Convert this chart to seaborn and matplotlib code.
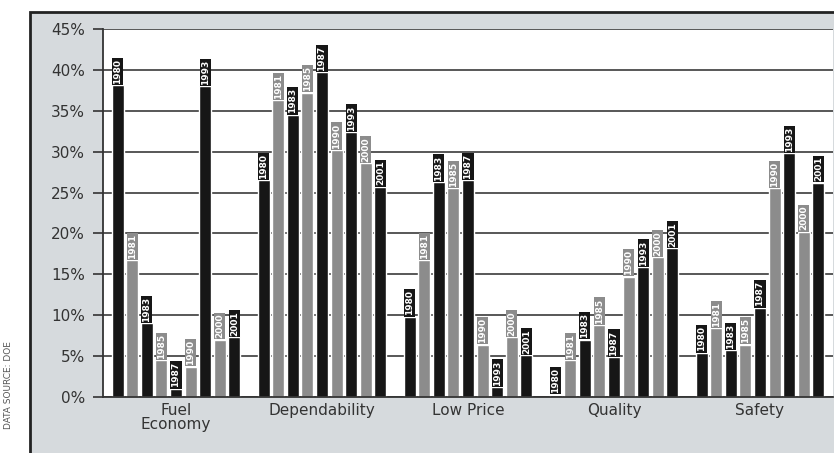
import matplotlib
matplotlib.use("Agg")
import matplotlib.pyplot as plt
from matplotlib.patches import Rectangle
import seaborn as sns
import pandas as pd
import numpy as np

categories = ["Fuel\nEconomy", "Dependability", "Low Price", "Quality", "Safety"]
years = ["1980", "1981", "1983", "1985", "1987", "1990", "1993", "2000", "2001"]
v1980 = [38.1, 26.5, 9.8, 0.3, 5.4]
v1981 = [16.7, 36.3, 16.7, 4.5, 8.4]
v1983 = [9.0, 34.5, 26.3, 7.0, 5.7]
v1985 = [4.5, 37.2, 25.5, 8.8, 6.4]
v1987 = [1.0, 39.7, 26.5, 4.9, 10.9]
v1990 = [3.7, 30.2, 6.4, 14.7, 25.5]
v1993 = [38.0, 32.4, 1.2, 15.9, 29.8]
v2000 = [7.0, 28.6, 7.3, 17.1, 20.2]
v2001 = [7.3, 25.7, 5.1, 18.2, 26.2]
yticks = [0, 5, 10, 15, 20, 25, 30, 35, 40, 45]
ytick_labels = ["0%", "5%", "10%", "15%", "20%", "25%", "30%", "35%", "40%", "45%"]

series = [v1980, v1981, v1983, v1985, v1987, v1990, v1993, v2000, v2001]
rows = []
for yr, vals in zip(years, series):
    for c, v in zip(categories, vals):
        rows.append({"category": c, "year": yr, "value": v})
df = pd.DataFrame(rows)

BLACK = "#161616"
GRAY = "#8c8c8c"
palette = [BLACK if i % 2 == 0 else GRAY for i in range(len(years))]

sns.set_theme(style="white")
plt.rcParams["font.family"] = ["DejaVu Sans"]

W, H = 834, 453
fig = plt.figure(figsize=(W / 100, H / 100), dpi=100)
fig.patch.set_facecolor("white")

# gray panel with dark border
panel = Rectangle((30 / W, -0.01), 1.0, (H - 12) / H + 0.01, transform=fig.transFigure,
                  facecolor="#d6dadd", edgecolor="#222222", linewidth=2.0, zorder=-10)
fig.patches.append(panel)

ax = fig.add_axes([103 / W, (H - 397) / H, (833 - 103) / W, (397 - 29) / H])
ax.set_zorder(5)
ax.set_facecolor("white")

sns.barplot(data=df, x="category", y="value", hue="year", palette=palette,
            width=0.9, gap=0.18, ax=ax, legend=False, saturation=1.0,
            order=categories, hue_order=years)

for i, cont in enumerate(ax.containers):
    col = palette[i]
    ax.bar_label(cont, labels=[years[i]] * len(cont), rotation=90, padding=1,
                 fontsize=6.5, fontweight="bold", color="white",
                 bbox=dict(boxstyle="square,pad=0.12", facecolor=col, edgecolor="none"))

ax.set_ylim(0, 45)
ax.set_xlim(-0.5, 4.5)
ax.set_yticks(yticks)
ax.set_yticklabels(ytick_labels, fontsize=11, color="#333333")
ax.yaxis.grid(True, color="#4a4a4a", linewidth=1.3)
ax.set_axisbelow(True)

ax.set_xticks(range(len(categories)))
ax.set_xticklabels(categories, fontsize=11, color="#333333", linespacing=0.95)
ax.set_xticks(np.arange(-0.5, 5.0, 1.0), minor=True)
ax.tick_params(axis="x", which="major", length=0, pad=4)
ax.tick_params(axis="x", which="minor", length=5, width=1, color="#333333", direction="out")
ax.tick_params(axis="y", which="major", length=7, width=1.2, color="#333333",
               direction="out", left=True, pad=6)

for s in ["top", "right"]:
    ax.spines[s].set_visible(False)
ax.spines["left"].set_color("#333333")
ax.spines["left"].set_linewidth(1.3)
ax.spines["bottom"].set_color("#333333")
ax.spines["bottom"].set_linewidth(1.3)
ax.set_xlabel("")
ax.set_ylabel("")

fig.text(9 / W, (H - 385) / H, "DATA SOURCE: DOE", rotation=90, ha="center", va="center",
         fontsize=6.5, color="#555555")

fig.savefig("out.png", dpi=100)
